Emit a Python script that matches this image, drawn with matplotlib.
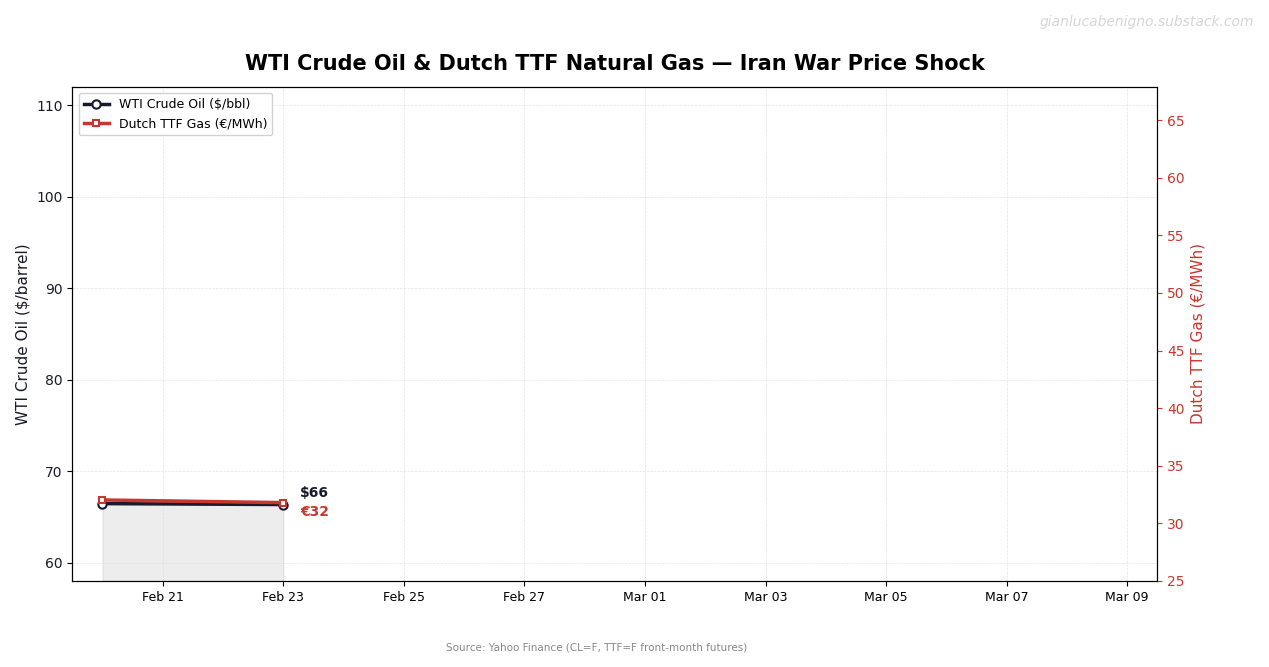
import matplotlib
matplotlib.use("Agg")
import matplotlib.pyplot as plt
import matplotlib.dates as mdates
import pandas as pd

# Price data (front-month futures)
dates = pd.to_datetime(["2026-02-20", "2026-02-23"])
wti = [66.45, 66.35]
ttf = [32.03, 31.80]

wti_color = "#1a1a2e"
ttf_color = "#c8372d"

fig, ax1 = plt.subplots(figsize=(12.69, 6.67), dpi=100)
fig.subplots_adjust(left=0.057, right=0.912, top=0.87, bottom=0.129)

# WTI on left axis
ax1.plot(dates, wti, color=wti_color, lw=2.5, marker="o", ms=6,
         mfc="white", mec=wti_color, mew=1.5, label="WTI Crude Oil ($/bbl)", zorder=3)
ax1.fill_between(dates, wti, 58, color="#888888", alpha=0.15, zorder=1)
ax1.set_ylim(58, 112)
ax1.set_ylabel("WTI Crude Oil ($/barrel)", fontsize=11, color=wti_color)
ax1.grid(True, ls="--", lw=0.5, color="#dddddd", alpha=0.8)

# TTF on right axis
ax2 = ax1.twinx()
ax2.plot(dates, ttf, color=ttf_color, lw=2.5, marker="s", ms=5,
         mfc="white", mec=ttf_color, mew=1.5, label="Dutch TTF Gas (€/MWh)", zorder=3)
ax2.set_ylim(25, 67.9)
ax2.set_ylabel("Dutch TTF Gas (€/MWh)", fontsize=11, color=ttf_color)
ax2.tick_params(axis="y", colors=ttf_color, labelsize=10)
ax2.spines["right"].set_color("black")

ax1.tick_params(axis="y", labelsize=10, labelcolor=wti_color)
ax1.tick_params(axis="x", labelsize=9)

# x axis
ax1.set_xlim(pd.Timestamp("2026-02-19 12:00"), pd.Timestamp("2026-03-09 12:00"))
ax1.xaxis.set_major_locator(mdates.DayLocator(interval=2))
ax1.xaxis.set_major_formatter(mdates.DateFormatter("%b %d"))

# last value labels
ax1.annotate(f"${wti[-1]:.0f}", (dates[-1], wti[-1]), xytext=(12, 8),
             textcoords="offset points", fontsize=10, fontweight="bold",
             color=wti_color, va="center")
ax2.annotate(f"€{ttf[-1]:.0f}", (dates[-1], ttf[-1]), xytext=(12, -7),
             textcoords="offset points", fontsize=10, fontweight="bold",
             color=ttf_color, va="center")

# legend
h1, l1 = ax1.get_legend_handles_labels()
h2, l2 = ax2.get_legend_handles_labels()
ax1.legend(h1 + h2, l1 + l2, loc="upper left", fontsize=9, framealpha=0.9)

ax1.set_title("WTI Crude Oil & Dutch TTF Natural Gas — Iran War Price Shock",
              fontsize=15, fontweight="bold", pad=12)

fig.text(0.47, 0.024, "Source: Yahoo Finance (CL=F, TTF=F front-month futures)",
         ha="center", fontsize=7.5, color="#888888")
fig.text(0.988, 0.967, "gianlucabenigno.substack.com", ha="right", va="center",
         fontsize=10, color="#cccccc", style="italic", alpha=0.8)

fig.savefig("out.png", dpi=100)
